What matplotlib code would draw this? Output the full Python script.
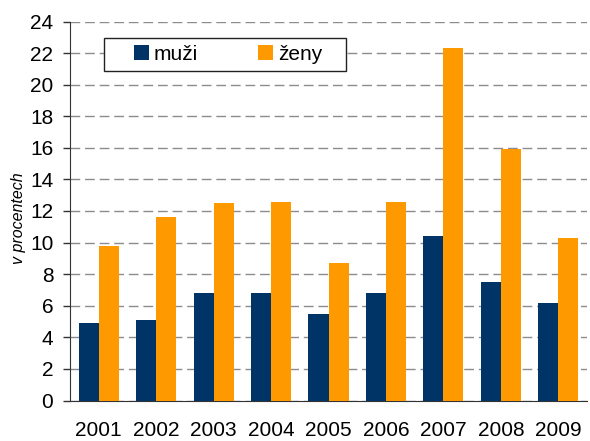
import matplotlib
matplotlib.use("Agg")
import matplotlib.pyplot as plt
import numpy as np
from matplotlib.patches import Patch, Rectangle

years = ["2001", "2002", "2003", "2004", "2005", "2006", "2007", "2008", "2009"]
muzi = [4.9, 5.1, 6.8, 6.8, 5.5, 6.8, 10.4, 7.5, 6.2]
zeny = [9.8, 11.6, 12.5, 12.6, 8.7, 12.6, 22.3, 15.9, 10.3]
series_names = ["muži", "ženy"]
colors = ["#003366", "#FF9900"]

plt.rcParams['font.family'] = ['Liberation Sans', 'DejaVu Sans']

W, H = 590, 441
fig = plt.figure(figsize=(W/100, H/100), dpi=100)
ax = fig.add_axes([70/W, 1-400.5/H, (587-70)/W, (400.5-21.5)/H])

x = np.arange(len(years))
w = 0.35
ax.bar(x - w/2, muzi, width=w, color=colors[0], zorder=3)
ax.bar(x + w/2, zeny, width=w, color=colors[1], zorder=3)

ax.set_xlim(-0.5, len(years) - 0.5)
ax.set_ylim(0, 24)
ax.set_yticks(np.arange(0, 25, 2))
ax.set_xticks(x)
ax.set_xticklabels(years)
ax.tick_params(axis='x', length=0, pad=15, labelsize=15)
ax.tick_params(axis='y', length=5, width=1, color='#333333', labelsize=15, pad=7)

ax.yaxis.grid(True, color='#8c8c8c', linestyle=(0, (7, 3.5)), linewidth=1, zorder=0)
for s in ['top', 'right']:
    ax.spines[s].set_visible(False)
ax.spines['left'].set_color('#333333')
ax.spines['bottom'].set_color('#333333')

ax.set_ylabel("v procentech", fontstyle='italic', fontsize=11.5)
ax.yaxis.set_label_coords((26-70)/517, (400.5-218)/379)

# legend frame
fig.patches.append(Rectangle((104/W, 1-71/H), (346-104)/W, (71-38)/H, transform=fig.transFigure,
                             facecolor='white', edgecolor='#222222', linewidth=1, zorder=4))
handles = [Patch(facecolor=c, edgecolor='none') for c in colors]
leg = fig.legend(handles, series_names, loc='center left', bbox_to_anchor=(134/W, 1-54.5/H),
                 ncol=2, frameon=False, fontsize=15, handlelength=0.7, handleheight=0.7,
                 columnspacing=2.9, borderpad=0, handletextpad=0.25, borderaxespad=0)
leg.set_zorder(5)

fig.savefig("out.png", dpi=100)
